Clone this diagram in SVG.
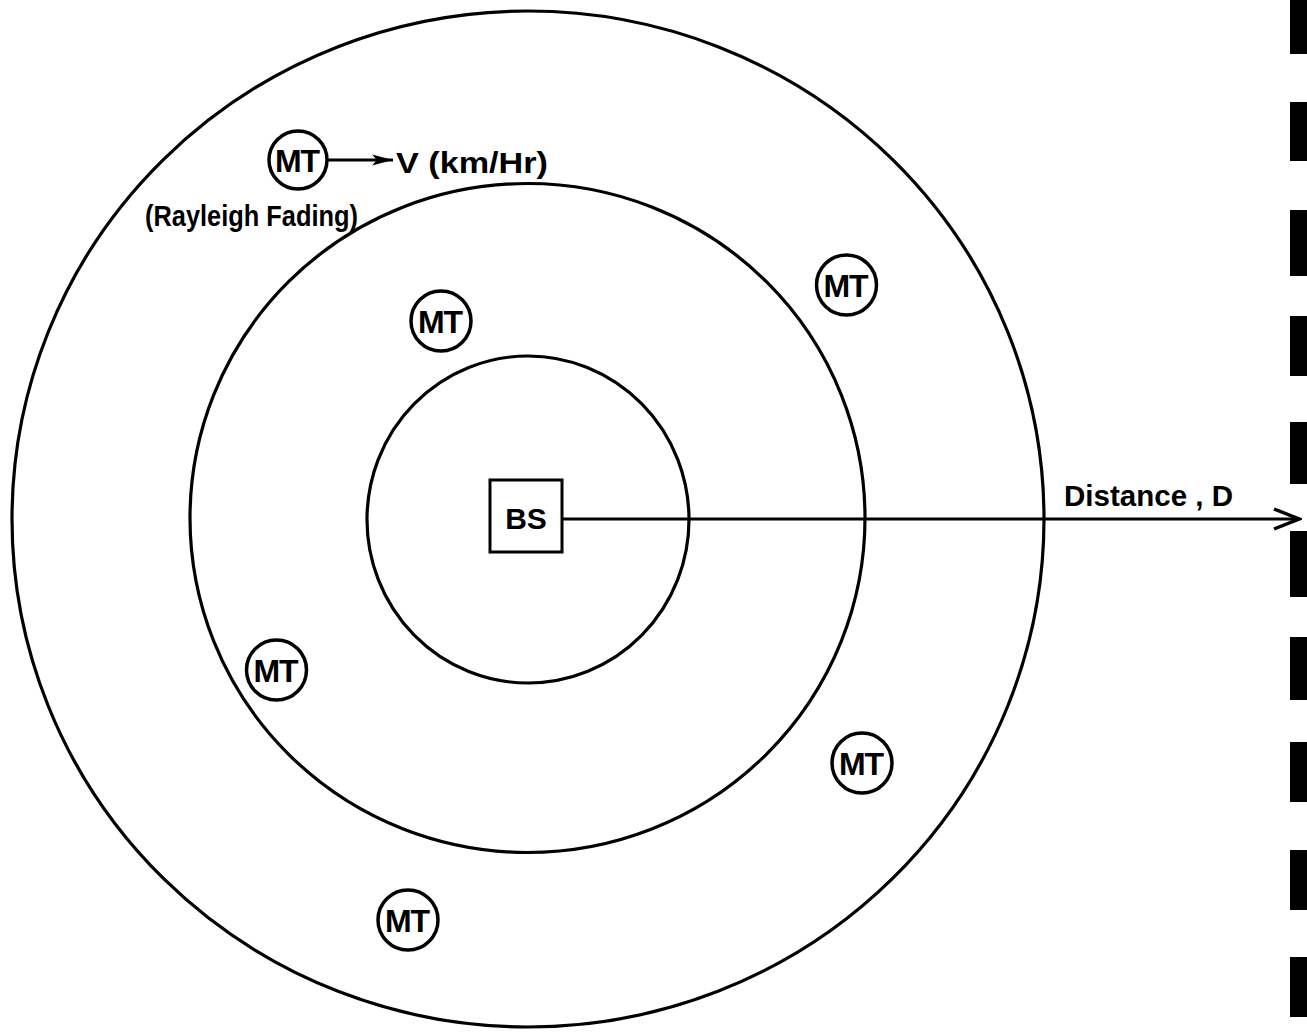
<svg xmlns="http://www.w3.org/2000/svg" width="1307" height="1032" viewBox="0 0 1307 1032">
  <style>
    .ring { fill: none; stroke: #000; stroke-width: 3.2; }
    .mt { fill: #fff; stroke: #000; stroke-width: 3.5; }
    .lbl { font-family: "Liberation Sans", Arial, sans-serif; font-weight: bold; fill: #000; }
    .mtt { font-family: "Liberation Sans", Arial, sans-serif; font-weight: bold; font-size: 32px; fill: #000; text-anchor: middle; letter-spacing: -1px; }
    .edge { fill: none; stroke: #000; stroke-width: 3; }
    .bar { fill: #000; }
  </style>
  <defs>
    <marker id="solidHead" markerWidth="24" markerHeight="14" refX="21" refY="7" orient="auto" markerUnits="userSpaceOnUse">
      <path d="M0,1.5 L21,7 L0,12.5 L5,7 Z" fill="#000"/>
    </marker>
    <marker id="openHead" markerWidth="30" markerHeight="26" refX="27" refY="13" orient="auto" markerUnits="userSpaceOnUse">
      <path d="M2,3 L27,13 L2,23" fill="none" stroke="#000" stroke-width="3.5"/>
    </marker>
  </defs>
  <rect width="1307" height="1032" fill="#fff"/>

  <g id="rings">
    <ellipse id="outer-ring" class="ring" cx="528" cy="519" rx="516" ry="508"/>
    <ellipse id="middle-ring" class="ring" cx="527.5" cy="518" rx="337.5" ry="334.5"/>
    <ellipse id="inner-ring" class="ring" cx="528" cy="519.5" rx="161" ry="163.5"/>
  </g>

  <g id="connectors">
    <line class="edge" x1="562" y1="519" x2="1299" y2="519" marker-end="url(#openHead)"/>
    <line class="edge" x1="328" y1="160" x2="393" y2="160" stroke-width="2.5" marker-end="url(#solidHead)"/>
  </g>

  <g id="bs">
    <rect x="490" y="480" width="72" height="72" fill="#fff" stroke="#000" stroke-width="3"/>
    <text class="lbl" x="526" y="529" font-size="30" text-anchor="middle">BS</text>
  </g>

  <g id="mt-1">
    <circle class="mt" cx="298" cy="160" r="29"/>
    <text class="mtt" x="297" y="172">MT</text>
  </g>
  <g id="mt-2">
    <circle class="mt" cx="441" cy="321" r="30"/>
    <text class="mtt" x="440" y="333">MT</text>
  </g>
  <g id="mt-3">
    <circle class="mt" cx="846.5" cy="285" r="30"/>
    <text class="mtt" x="845.5" y="297">MT</text>
  </g>
  <g id="mt-4">
    <circle class="mt" cx="276.5" cy="670" r="30"/>
    <text class="mtt" x="275.5" y="682">MT</text>
  </g>
  <g id="mt-5">
    <circle class="mt" cx="862" cy="763" r="30"/>
    <text class="mtt" x="861" y="775">MT</text>
  </g>
  <g id="mt-6">
    <circle class="mt" cx="408" cy="920" r="30"/>
    <text class="mtt" x="407" y="932">MT</text>
  </g>

  <g id="labels">
    <text class="lbl" x="396" y="173" font-size="30" textLength="152" lengthAdjust="spacingAndGlyphs">V (km/Hr)</text>
    <text class="lbl" x="145" y="226" font-size="29" textLength="213" lengthAdjust="spacingAndGlyphs">(Rayleigh Fading)</text>
    <text class="lbl" x="1064" y="506" font-size="29" textLength="169" lengthAdjust="spacingAndGlyphs">Distance , D</text>
  </g>

  <g id="edge-bars">
    <rect class="bar" x="1290" y="0" width="17" height="54"/>
    <rect class="bar" x="1290" y="102" width="17" height="59"/>
    <rect class="bar" x="1290" y="210" width="17" height="66"/>
    <rect class="bar" x="1290" y="316" width="17" height="60"/>
    <rect class="bar" x="1290" y="422" width="17" height="62"/>
    <rect class="bar" x="1290" y="531" width="17" height="66"/>
    <rect class="bar" x="1290" y="637" width="17" height="63"/>
    <rect class="bar" x="1290" y="742" width="17" height="60"/>
    <rect class="bar" x="1290" y="850" width="17" height="60"/>
    <rect class="bar" x="1290" y="957" width="17" height="60"/>
  </g>
</svg>
